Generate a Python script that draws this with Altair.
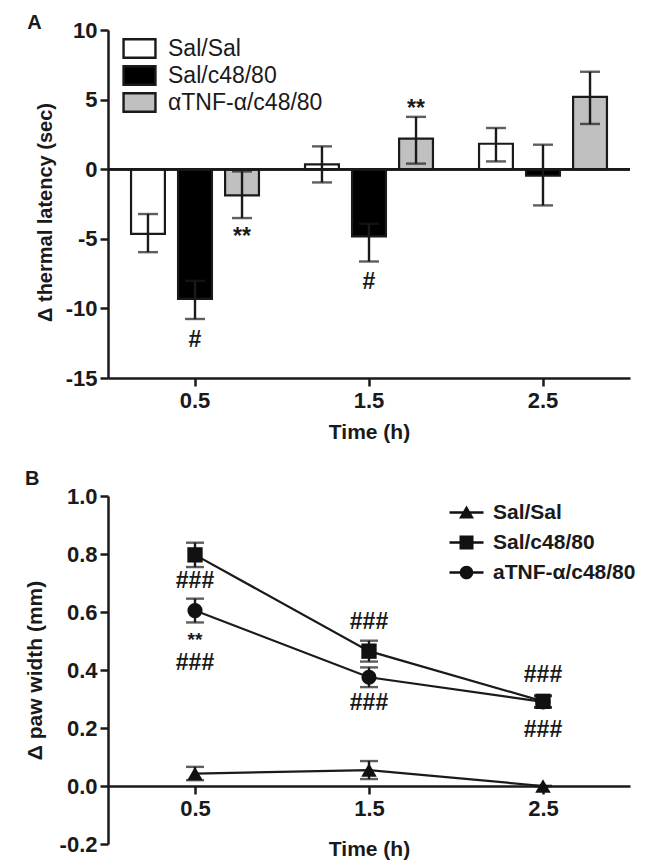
import altair as alt
import pandas as pd

FONT = "Liberation Sans"
INK = "#1a1a1a"

# ---------------- Panel A data ----------------
times = ["0.5", "1.5", "2.5"]
groups_a = ["Sal/Sal", "Sal/c48/80", "αTNF-α/c48/80"]
colors_a = ["#ffffff", "#000000", "#c0c0c0"]

a_sal_sal = [-4.65, 0.35, 1.83]
a_sal_sal_lo = [-5.96, -0.95, 0.56]
a_sal_sal_hi = [-3.22, 1.64, 2.96]
a_sal_c48 = [-9.32, -4.83, -0.47]
a_sal_c48_lo = [-10.76, -6.63, -2.60]
a_sal_c48_hi = [-8.02, -3.92, 1.76]
a_atnf = [-1.88, 2.19, 5.19]
a_atnf_lo = [-3.51, 0.40, 3.25]
a_atnf_hi = [-0.16, 3.76, 7.00]

ann_a_time = ["0.5", "0.5", "1.5", "1.5"]
ann_a_group = ["Sal/c48/80", "αTNF-α/c48/80", "Sal/c48/80", "αTNF-α/c48/80"]
ann_a_text = ["#", "**", "#", "**"]
ann_a_y = [-12.3, -4.9, -8.1, 4.3]

# ---------------- Panel B data ----------------
times_b = [0.5, 1.5, 2.5]
groups_b = ["Sal/Sal", "Sal/c48/80", "aTNF-α/c48/80"]
b_sal_sal = [0.043, 0.055, 0.0]
b_sal_sal_sem = [0.023, 0.031, 0.0]
b_sal_c48 = [0.797, 0.465, 0.292]
b_sal_c48_sem = [0.042, 0.036, 0.02]
b_atnf = [0.605, 0.375, 0.290]
b_atnf_sem = [0.041, 0.034, 0.02]

ann_b_time = [0.5, 0.5, 0.5, 1.5, 1.5, 2.5, 2.5]
ann_b_text = ["###", "**", "###", "###", "###", "###", "###"]
ann_b_y = [0.706, 0.505, 0.425, 0.565, 0.285, 0.383, 0.193]

# ---------------- tables ----------------
rows = []
for g, m, lo, hi in [
    (groups_a[0], a_sal_sal, a_sal_sal_lo, a_sal_sal_hi),
    (groups_a[1], a_sal_c48, a_sal_c48_lo, a_sal_c48_hi),
    (groups_a[2], a_atnf, a_atnf_lo, a_atnf_hi),
]:
    for t, mv, l, h in zip(times, m, lo, hi):
        rows.append({"time": t, "group": g, "mean": mv, "lo": l, "hi": h})
df_a = pd.DataFrame(rows)
df_a_ann = pd.DataFrame({"time": ann_a_time, "group": ann_a_group,
                         "text": ann_a_text, "y": ann_a_y})

rows = []
for g, m, s in [
    (groups_b[0], b_sal_sal, b_sal_sal_sem),
    (groups_b[1], b_sal_c48, b_sal_c48_sem),
    (groups_b[2], b_atnf, b_atnf_sem),
]:
    for t, mv, sv in zip(times_b, m, s):
        rows.append({"t": t, "group": g, "v": mv, "lo": mv - sv, "hi": mv + sv})
df_b = pd.DataFrame(rows)
df_b_ann = pd.DataFrame({"t": ann_b_time, "text": ann_b_text, "y": ann_b_y})

# ---------------- shared axis style ----------------
axis_common = dict(grid=False, domainColor=INK, tickColor=INK, domainWidth=2.5,
                   tickWidth=2.5, tickSize=8, labelColor=INK, titleColor=INK,
                   labelFont=FONT, titleFont=FONT, labelFontWeight="bold",
                   titleFontWeight="bold", labelFontSize=22, titleFontSize=21)
MINUS_FIX = "replace(datum.label, '−', '-')"

# ---------------- Panel A ----------------
xa = alt.X("time:N", scale=alt.Scale(domain=times, paddingInner=0, paddingOuter=0),
           axis=alt.Axis(title="Time (h)", labelAngle=0, labelPadding=4,
                         titlePadding=10, **axis_common))
xoff = alt.XOffset("group:N", scale=alt.Scale(domain=groups_a, paddingInner=0.28,
                                              paddingOuter=0.49))
ya_scale = alt.Scale(domain=[-15, 10], nice=False, zero=False)
ya_axis = dict(axis_common)
ya_axis["titleFontSize"] = 20
ya = alt.Y("mean:Q", scale=ya_scale,
           axis=alt.Axis(title="Δ thermal latency (sec)", values=[-15, -10, -5, 0, 5, 10],
                         labelExpr=MINUS_FIX, labelPadding=3, titlePadding=10,
                         titleY=182, **ya_axis))

rect_path = "M-1.45,-0.84H1.45V0.84H-1.45Z"
bars = alt.Chart(df_a).mark_bar(stroke=INK, strokeWidth=2.2).encode(
    x=xa, xOffset=xoff, y=ya, y2=alt.datum(0),
    color=alt.Color("group:N", scale=alt.Scale(domain=groups_a, range=colors_a),
                    legend=alt.Legend(title=None, orient="none", legendX=19, legendY=6,
                                      symbolType=rect_path, symbolSize=484,
                                      symbolStrokeColor=INK, symbolStrokeWidth=2.4,
                                      labelFont=FONT, labelFontSize=23,
                                      labelFontWeight="normal", labelColor=INK,
                                      labelOffset=16, rowPadding=-3)),
)
zero_a = alt.Chart(df_a).mark_rule(stroke=INK, strokeWidth=2.2).encode(y=alt.datum(0))
err_a = alt.Chart(df_a).mark_rule(stroke=INK, strokeWidth=2.4).encode(
    x=xa, xOffset=xoff, y=alt.Y("lo:Q", scale=ya_scale), y2="hi:Q")
cap_lo_a = alt.Chart(df_a).mark_tick(color=INK, size=20, thickness=2.4, orient="horizontal").encode(
    x=xa, xOffset=xoff, y=alt.Y("lo:Q", scale=ya_scale))
cap_hi_a = alt.Chart(df_a).mark_tick(color=INK, size=20, thickness=2.4, orient="horizontal").encode(
    x=xa, xOffset=xoff, y=alt.Y("hi:Q", scale=ya_scale))
ann_a = alt.Chart(df_a_ann).mark_text(font=FONT, fontSize=23, fontWeight="bold",
                                      color=INK, baseline="middle").encode(
    x=alt.X("time:N", scale=alt.Scale(domain=times)),
    xOffset=alt.XOffset("group:N", scale=alt.Scale(domain=groups_a)),
    y=alt.Y("y:Q", scale=ya_scale), text="text:N")

chart_a = alt.layer(bars, zero_a, err_a, cap_lo_a, cap_hi_a, ann_a).properties(
    width=522, height=348,
    title=alt.TitleParams("A", anchor="start", frame="bounds", font=FONT, fontSize=20,
                          fontWeight="bold", color=INK, offset=-14, dx=-8),
)

# ---------------- Panel B ----------------
xb_scale = alt.Scale(domain=[0, 3], nice=False, zero=False)
yb_scale = alt.Scale(domain=[-0.2, 1.0], nice=False, zero=False)
xb = alt.X("t:Q", scale=xb_scale,
           axis=alt.Axis(title="Time (h)", values=[0.5, 1.5, 2.5], format=".1f",
                         offset=-58, labelPadding=4, titlePadding=19, **axis_common))
yb_axis = dict(axis_common)
yb_axis["titleFontSize"] = 21
yb = alt.Y("v:Q", scale=yb_scale,
           axis=alt.Axis(title="Δ paw width (mm)", values=[-0.2, 0, 0.2, 0.4, 0.6, 0.8, 1.0],
                         format=".1f", labelExpr=MINUS_FIX, labelPadding=3,
                         titlePadding=14, **yb_axis))

lines_b = alt.Chart(df_b).mark_line(color=INK, strokeWidth=2.2).encode(
    x=xb, y=yb, detail="group:N")
err_b = alt.Chart(df_b).mark_rule(color=INK, strokeWidth=2.4).encode(
    x=xb, y=alt.Y("lo:Q", scale=yb_scale), y2="hi:Q")
cap_lo_b = alt.Chart(df_b).mark_tick(color=INK, size=18, thickness=2.4, orient="horizontal").encode(
    x=xb, y=alt.Y("lo:Q", scale=yb_scale))
cap_hi_b = alt.Chart(df_b).mark_tick(color=INK, size=18, thickness=2.4, orient="horizontal").encode(
    x=xb, y=alt.Y("hi:Q", scale=yb_scale))
pts_b = alt.Chart(df_b).mark_point(filled=True, color="#111", opacity=1).encode(
    x=xb, y=yb,
    shape=alt.Shape("group:N", scale=alt.Scale(domain=groups_b,
                                               range=["triangle-up", "square", "circle"]),
                    legend=None),
    size=alt.Size("group:N", scale=alt.Scale(domain=groups_b, range=[240, 230, 180]),
                  legend=None),
)
LINE = "M-1.7,-0.12H1.7V0.12H-1.7Z"
leg_paths = [
    LINE + "M0,-0.7L0.75,0.6H-0.75Z",
    LINE + "M-0.7,-0.7H0.7V0.7H-0.7Z",
    LINE + "M-0.68,0A0.68,0.68 0 1,1 0.68,0A0.68,0.68 0 1,1 -0.68,0Z",
]
leg_b = alt.Chart(df_b).mark_point(filled=True, color="#111", opacity=0).encode(
    x=xb, y=yb,
    shape=alt.Shape("group:N", scale=alt.Scale(domain=groups_b, range=leg_paths),
                    legend=alt.Legend(
                        title=None, orient="none", legendX=348, legendY=6,
                        symbolSize=400, symbolOpacity=1, symbolFillColor="#111",
                        symbolStrokeWidth=0, labelFont=FONT, labelFontSize=21,
                        labelFontWeight="bold", labelColor=INK, labelOffset=16,
                        rowPadding=8)),
)
ann_b_hash = alt.Chart(df_b_ann).transform_filter(alt.datum.text == "###").mark_text(
    font=FONT, fontSize=23, fontWeight="bold", color=INK, baseline="middle").encode(
    x=alt.X("t:Q", scale=xb_scale), y=alt.Y("y:Q", scale=yb_scale), text="text:N")
ann_b_star = alt.Chart(df_b_ann).transform_filter(alt.datum.text == "**").mark_text(
    font=FONT, fontSize=19, fontWeight="bold", color=INK, baseline="middle").encode(
    x=alt.X("t:Q", scale=xb_scale), y=alt.Y("y:Q", scale=yb_scale), text="text:N")

chart_b = alt.layer(lines_b, err_b, cap_lo_b, cap_hi_b, pts_b, leg_b,
                    ann_b_hash, ann_b_star).resolve_scale(
    shape="independent", size="independent").properties(
    width=522, height=348,
    title=alt.TitleParams("B", anchor="start", frame="bounds", font=FONT, fontSize=20,
                          fontWeight="bold", color=INK, offset=-4, dx=1),
)

chart = alt.vconcat(chart_a, chart_b, spacing=27).properties(
    padding={"left": 16, "top": 5, "right": 5, "bottom": 5}
).configure(font=FONT, background="white").configure_view(stroke=None)

chart.save("out.html", embed_options={"renderer": "svg", "actions": False})
